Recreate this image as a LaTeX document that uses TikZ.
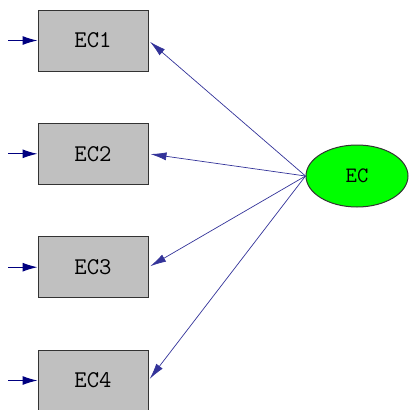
\documentclass[tikz,border=0pt]{standalone}
\usetikzlibrary{arrows.meta,shapes.geometric}
\definecolor{boxgray}{RGB}{192,192,192}
\definecolor{latgreen}{RGB}{0,255,0}
\definecolor{pathblue}{RGB}{0,0,128}
\tikzset{
  observed/.style={draw=black!80, line width=1pt, fill=boxgray,
    minimum width=110pt, minimum height=61pt, inner sep=0pt,
    font=\ttfamily\fontsize{24}{24}\selectfont},
  latent/.style={ellipse, draw=black!80, line width=1pt, fill=latgreen,
    minimum width=102pt, minimum height=62pt, inner sep=0pt,
    font=\ttfamily\fontsize{22}{22}\selectfont},
  loading/.style={draw=pathblue!80, line width=0.7pt,
    -{Latex[length=16pt,width=8pt]}, shorten >=2pt},
  errpath/.style={draw=pathblue, line width=1pt,
    -{Latex[length=15pt,width=9pt]}}
}
\begin{document}
\begin{tikzpicture}[x=1pt,y=-1pt]
  \useasboundingbox (0,0) rectangle (409,410);
  \node[observed] (ec1) at (93,40.5) {EC1};
  \node[observed] (ec2) at (93,153.8) {EC2};
  \node[observed] (ec3) at (93,267.2) {EC3};
  \node[observed] (ec4) at (93,380.5) {EC4};
  \node[latent] (ec) at (357,176) {EC};
  \foreach \i in {1,...,4} {
    \coordinate (err\i) at (8,0 |- ec\i.west);
    \draw[errpath] (err\i) -- (ec\i.west);
    \draw[loading] (ec.west) -- (ec\i.east);
  }
\end{tikzpicture}
\end{document}
